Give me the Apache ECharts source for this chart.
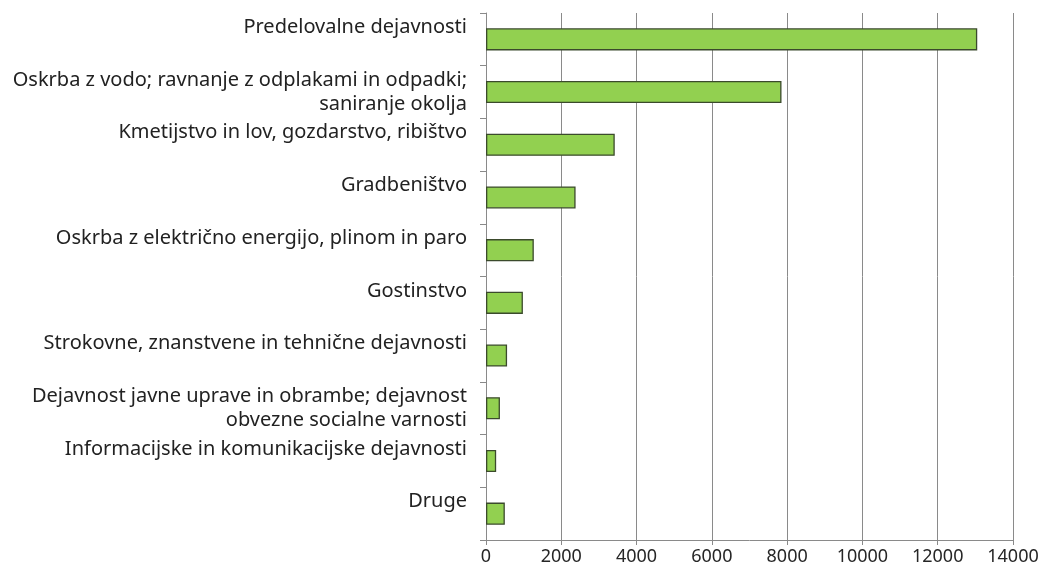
<!DOCTYPE html>
<html>
<head>
<meta charset="utf-8">
<script src="https://cdn.jsdelivr.net/npm/echarts@6/dist/echarts.min.js"></script>
<style>
  html, body { margin: 0; padding: 0; background: #fff; }
  #chart { width: 1047px; height: 574px; }
</style>
</head>
<body>
<div id="chart"></div>
<script>
const categories = [
  'Predelovalne dejavnosti',
  'Oskrba z vodo; ravnanje z odplakami in odpadki;\nsaniranje okolja',
  'Kmetijstvo in lov, gozdarstvo, ribištvo',
  'Gradbeništvo',
  'Oskrba z električno energijo, plinom in paro',
  'Gostinstvo',
  'Strokovne, znanstvene in tehnične dejavnosti',
  'Dejavnost javne uprave in obrambe; dejavnost\nobvezne socialne varnosti',
  'Informacijske in komunikacijske dejavnosti',
  'Druge'
]
const values = [13050, 7850, 3420, 2380, 1270, 980, 560, 370, 270, 500]
const xTicks = { min: 0, max: 14000, interval: 2000 }

const chart = echarts.init(document.getElementById('chart'))
chart.setOption({
  animation: false,
  grid: { left: 486, right: 34, top: 13, bottom: 34 },
  xAxis: {
    type: 'value',
    min: xTicks.min,
    max: xTicks.max,
    interval: xTicks.interval,
    axisLine: { show: true, lineStyle: { color: '#8a8a8a', width: 1 } },
    axisTick: { show: true, length: 5, lineStyle: { color: '#8a8a8a' } },
    axisLabel: {
      color: '#262626', fontSize: 18, fontFamily: 'Noto Sans', margin: 8,
      formatter: function (v) { return String(v) }
    },
    splitLine: { show: true, lineStyle: { color: '#8a8a8a', width: 1 } }
  },
  yAxis: {
    type: 'category',
    inverse: true,
    data: categories,
    axisLine: { show: true, lineStyle: { color: '#8a8a8a', width: 1 } },
    axisTick: { show: true, length: 6, lineStyle: { color: '#8a8a8a' } },
    axisLabel: {
      color: '#222',
      fontSize: 20,
      fontFamily: 'Noto Sans',
      lineHeight: 24,
      margin: 19,
      align: 'right',
      // single-line labels sit in the upper half, like the wrapped ones
      formatter: function (v) { return v.indexOf('\n') < 0 ? v + '\n' : v }
    }
  },
  series: [{
    type: 'bar',
    data: values,
    barWidth: '42%',
    itemStyle: { color: '#92d050', borderColor: '#3b4a2c', borderWidth: 1.3 }
  }]
})
</script>
</body>
</html>
